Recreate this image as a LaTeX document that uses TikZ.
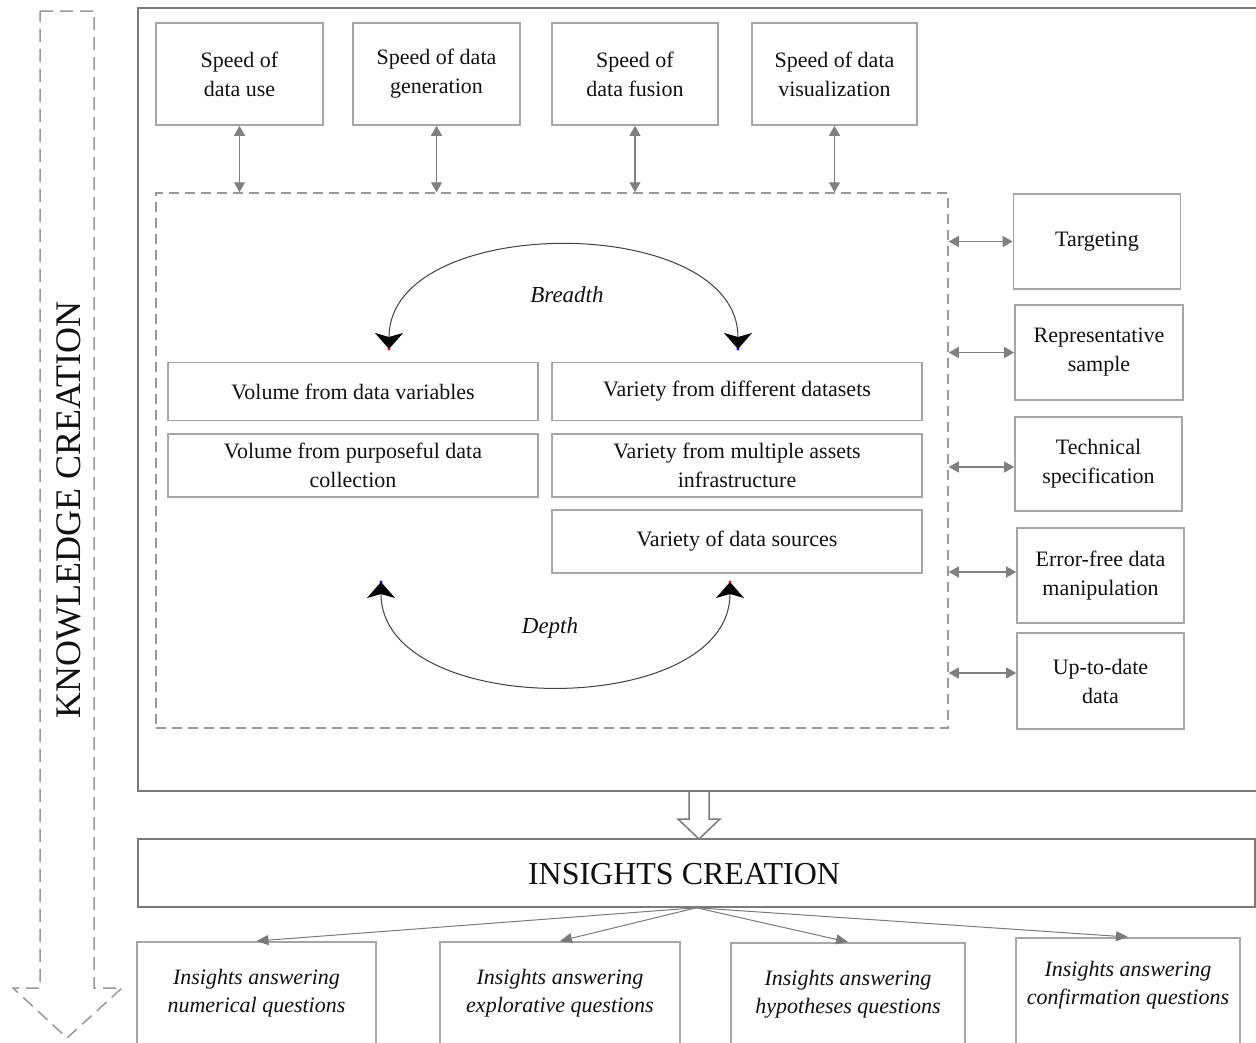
\documentclass[tikz,border=0pt]{standalone}
\usepackage{fontspec}
\setmainfont{Liberation Serif}
\usetikzlibrary{arrows.meta}
\definecolor{boxgray}{HTML}{A6A6A6}
\definecolor{linegray}{HTML}{7A7A7A}
\definecolor{arrgray}{HTML}{808080}
\definecolor{dashgray}{HTML}{999999}
\definecolor{txt}{HTML}{111111}
\begin{document}
\begin{tikzpicture}[x=1pt,y=-1pt,
  box/.style={draw=boxgray, line width=1.6pt, align=center, inner sep=0pt, text=txt,
    font=\fontsize{22}{29}\selectfont},
  ibox/.style={draw=boxgray, line width=1.6pt, inner sep=0pt, anchor=north, minimum height=110pt},
  itxt/.style={align=center, text=txt, font=\fontsize{22}{28}\selectfont\itshape},
  dbl/.style={draw=arrgray, line width=1.2pt, {Triangle[length=10pt,width=11pt]}-{Triangle[length=10pt,width=11pt]}},
  sgl/.style={draw=linegray, line width=1pt, -{Triangle[length=12pt,width=10pt]}},
  dashbox/.style={draw=dashgray, line width=1.5pt, dash pattern=on 10pt off 6pt},
  arc/.style={draw=black!75, line width=1pt,
    {Stealth[length=16pt,width=28pt,inset=4pt,color=black,fill=black]}-{Stealth[length=16pt,width=28pt,inset=4pt,color=black,fill=black]}}
]
\clip (0,0) rectangle (1256,1042);
\fill[white] (0,0) rectangle (1256,1042);

% knowledge creation dashed arrow
\draw[draw=dashgray, line width=1.5pt, dash pattern=on 13pt off 7pt]
  (40,11) -- (94,11) -- (94,988) -- (122,988) -- (67,1038) -- (13,988) -- (40,988) -- cycle;
\node[rotate=90, text=txt, font=\fontsize{36}{36}\selectfont] (kc) at (69,510) {KNOWLEDGE CREATION};

% outer frame
\draw[draw=linegray, line width=1.5pt] (1260,8) -- (138,8) -- (138,791) -- (1260,791);

% speed boxes
\node[box, minimum width=167pt, minimum height=102pt] (s1) at (239.5,74) {Speed of\\data use};
\node[box, minimum width=167pt, minimum height=102pt] (s2) at (436.5,74) {Speed of data\\generation};
\node[box, minimum width=166pt, minimum height=102pt] (s3) at (635,74) {Speed of\\data fusion};
\node[box, minimum width=165pt, minimum height=102pt] (s4) at (834.5,74) {Speed of data\\visualization};

% dashed inner box
\node[dashbox, minimum width=792pt, minimum height=535pt, inner sep=0pt] (db) at (552,460.5) {};

\draw[dbl] (s1.south) -- (s1.south |- db.north);
\draw[dbl] (s2.south) -- (s2.south |- db.north);
\draw[dbl] (s3.south) -- (s3.south |- db.north);
\draw[dbl] (s4.south) -- (s4.south |- db.north);

% right boxes
\node[box, minimum width=167pt, minimum height=95pt] (t1) at (1097,241.5) {Targeting};
\node[box, minimum width=168pt, minimum height=95pt] (t2) at (1099,352.5) {Representative\\sample};
\node[box, minimum width=167pt, minimum height=94pt] (t3) at (1098.5,464) {Technical\\specification};
\node[box, minimum width=167pt, minimum height=95pt] (t4) at (1100.5,575.5) {Error-free data\\manipulation};
\node[box, minimum width=167pt, minimum height=96pt] (t5) at (1100.5,681) {Up-to-date\\data};

\draw[dbl] (db.east |- t1.west) -- (t1.west);
\draw[dbl] (db.east |- t2.west) -- (t2.west);
\draw[dbl] (db.east |- 0,467) -- (t3.west |- 0,467);
\draw[dbl] (db.east |- 0,572) -- (t4.west |- 0,572);
\draw[dbl] (db.east |- 0,673) -- (t5.west |- 0,673);

% inner boxes
\node[box, minimum width=370pt, minimum height=58pt] (v1) at (353,391.5) {Volume from data variables};
\node[box, minimum width=370pt, minimum height=63pt] (v2) at (353,465.5) {Volume from purposeful data\\collection};
\node[box, minimum width=370pt, minimum height=58pt] (r1) at (737,391.5) {Variety from different datasets};
\node[box, minimum width=370pt, minimum height=63pt] (r2) at (737,465.5) {Variety from multiple assets\\infrastructure};
\node[box, minimum width=370pt, minimum height=63pt] (r3) at (737,541.5) {Variety of data sources};

% breadth / depth arcs
\coordinate (bl) at (389,349);
\coordinate (br) at (738,349);
\coordinate (dl) at (381,582);
\coordinate (dr) at (730,582);
\draw[arc] (bl) .. controls (389,212) and (738,212) .. (br);
\draw[arc] (dl) .. controls (381,720) and (730,720) .. (dr);
\fill[red] (bl) circle (1.6pt);
\fill[blue] (br) circle (1.6pt);
\fill[blue] (dl) circle (1.6pt);
\fill[red] (dr) circle (1.6pt);
\node[text=txt, font=\fontsize{23}{23}\selectfont\itshape] (bre) at (567,295) {Breadth};
\node[text=txt, font=\fontsize{23}{23}\selectfont\itshape] (dep) at (550,628) {Depth};

% insights creation
\node[draw=linegray, line width=1.5pt, minimum width=1117pt, minimum height=68pt, inner sep=0pt] (ic) at (696.5,873) {};
\node[text=txt, font=\fontsize{32}{32}\selectfont] (ict) at (684,874) {INSIGHTS CREATION};

% hollow arrow
\draw[draw=linegray, line width=1.5pt, fill=white, line join=miter]
  (689,791) -- (709,791) -- (709,819) -- (720,819) -- (699,839) -- (678,819) -- (689,819) -- cycle;

% insight boxes
\node[ibox, minimum width=239pt] (i1) at (256.5,941) {};
\node[ibox, minimum width=240pt] (i2) at (560,941) {};
\node[ibox, minimum width=234pt] (i3) at (848,942) {};
\node[ibox, minimum width=224pt] (i4) at (1128,937) {};
\node[itxt] (i1t) at (256.5,993) {Insights answering\\numerical questions};
\node[itxt] (i2t) at (560,993) {Insights answering\\explorative questions};
\node[itxt] (i3t) at (848,994) {Insights answering\\hypotheses questions};
\node[itxt] (i4t) at (1128,985) {Insights answering\\confirmation questions};

\draw[sgl] (ic.south) -- (i1.north);
\draw[sgl] (ic.south) -- (i2.north);
\draw[sgl] (ic.south) -- (i3.north);
\draw[sgl] (ic.south) -- (i4.north);
\end{tikzpicture}
\end{document}
